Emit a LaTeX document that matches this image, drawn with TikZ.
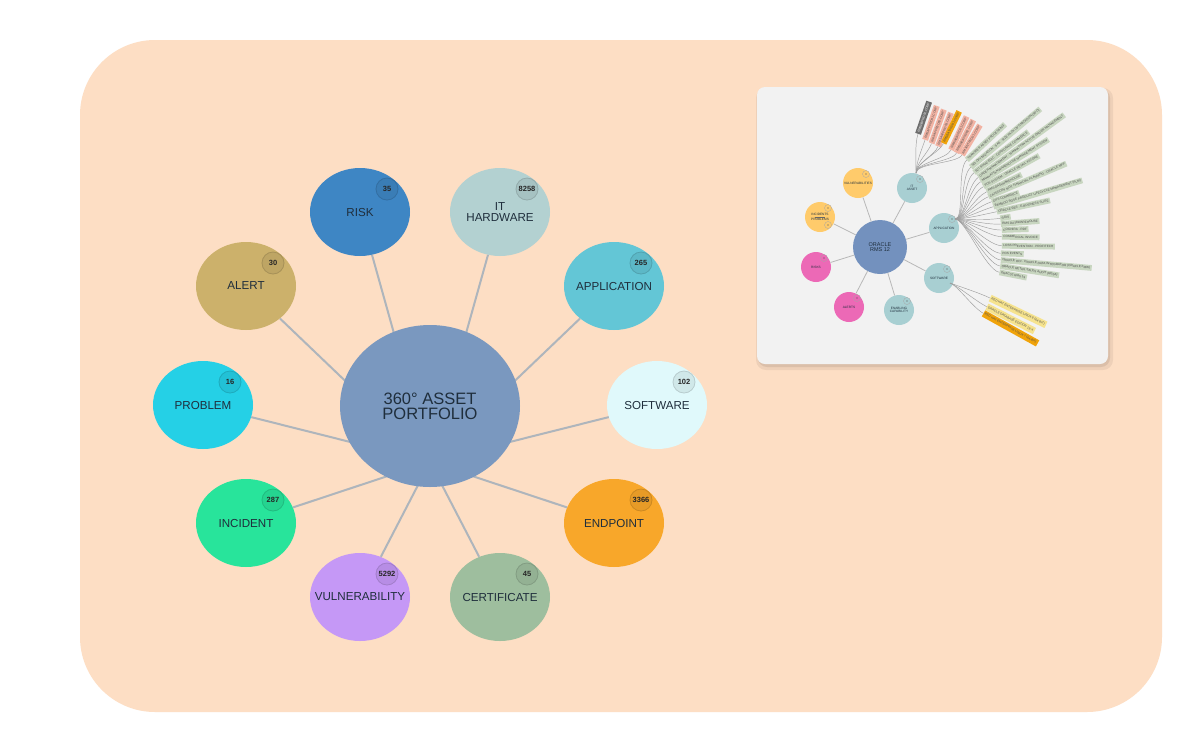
\documentclass[tikz,border=0pt]{standalone}
\usepackage{fontspec}
\setmainfont{Liberation Sans}
\usetikzlibrary{shapes.geometric,calc}
\definecolor{peach}{HTML}{FDDEC4}
\definecolor{ink}{HTML}{1F2E3C}
\definecolor{spokegrey}{HTML}{AEB5BC}
\definecolor{hubblue}{HTML}{7A98BF}
\definecolor{riskblue}{HTML}{3E86C4}
\definecolor{hwgrey}{HTML}{B3D1D1}
\definecolor{appcyan}{HTML}{63C6D6}
\definecolor{swice}{HTML}{E0F9FB}
\definecolor{endorange}{HTML}{F8A72A}
\definecolor{certsage}{HTML}{9EBE9E}
\definecolor{vulnlilac}{HTML}{C598F6}
\definecolor{incgreen}{HTML}{28E49B}
\definecolor{probcyan}{HTML}{25D0E6}
\definecolor{alertgold}{HTML}{CCB16B}
\definecolor{insetbg}{HTML}{F2F2F2}
\definecolor{rmsblue}{HTML}{7391BE}
\definecolor{iyellow}{HTML}{FFCB6B}
\definecolor{ipink}{HTML}{EC69B6}
\definecolor{iteal}{HTML}{A8CFD2}
\definecolor{sage}{HTML}{C8D6C0}
\definecolor{isalmon}{HTML}{F2B3A3}
\definecolor{iorange}{HTML}{F0A30A}
\definecolor{igrey}{HTML}{6E6E6E}
\definecolor{ipale}{HTML}{F6E38E}
\tikzset{bubble/.style={ellipse,minimum width=100pt,minimum height=88pt,inner xsep=-25pt,inner ysep=0pt,align=center,text=ink,font=\fontsize{11.6}{11}\selectfont},
badge/.style={circle,minimum size=22pt,inner sep=0pt,line width=.8pt,text=black!85,font=\fontsize{7.5}{8}\selectfont\bfseries},
spoke/.style={line width=2pt,draw=spokegrey},
ibub/.style={circle,minimum size=30pt,inner sep=-4pt,align=center,text=ink,font=\fontsize{3.2}{3.4}\selectfont},
idot/.style={circle,minimum size=7pt,inner sep=0pt,draw=black!35,line width=.3pt},
ispoke/.style={line width=.8pt,draw=black!28},
fan/.style={line width=.45pt,draw=black!38},
leaf/.style={anchor=west,inner sep=.6pt,inner xsep=1.5pt,minimum height=5.8pt,text=black!70,font=\fontsize{3.1}{3.3}\selectfont}}
\begin{document}
\begin{tikzpicture}[x=1pt,y=-1pt]
\useasboundingbox (0,0) rectangle (1200,732);
\fill[white] (0,0) rectangle (1200,732);
\fill[peach,rounded corners=75pt] (80,40) rectangle (1162,712);
\coordinate (hubfoot) at (430,462);
\foreach \n/\x/\y/\c/\t/\k in {risk/360/212/riskblue/RISK/35,ithw/500/212/hwgrey/{IT\\HARDWARE}/8258,app/614/286/appcyan/APPLICATION/265,sw/657/405/swice/SOFTWARE/102,endp/614/523/endorange/ENDPOINT/3366,cert/500/597/certsage/CERTIFICATE/45,vuln/360/597/vulnlilac/VULNERABILITY/5292,inc/246/523/incgreen/INCIDENT/287,prob/203/405/probcyan/PROBLEM/16,alert/246/286/alertgold/ALERT/30}{
\node[bubble,fill=\c] (\n) at (\x,\y) {\t};
\draw[spoke] (hubfoot) -- (\n);
\node[badge,fill=\c!93!black,draw=\c!82!black] (\n-k) at ($(\n)+(27,-23)$) {\k};}
\node[bubble,minimum width=180pt,minimum height=162pt,fill=hubblue,font=\fontsize{16.5}{15}\selectfont] (hub) at (430,406) {360° ASSET\\PORTFOLIO};
\fill[black,opacity=.06,rounded corners=10pt] (756,88) rectangle (1113,370);
\fill[black,opacity=.08,rounded corners=9pt] (758,89) rectangle (1110,367);
\fill[insetbg,rounded corners=8pt] (757,87) rectangle (1108,364);
\node[ibub,minimum size=54pt,fill=rmsblue,font=\fontsize{5.5}{5.5}\selectfont] (rms) at (880,247) {ORACLE\\RMS 12};
\foreach \n/\x/\y/\c/\t in {vul/858/183/iyellow/VULNERABILITIES,incprob/820/217/iyellow/{INCIDENTS\\[1.5pt]PROBLEMS},risks/816/267/ipink/RISKS,alerts/849/307/ipink/ALERTS,enab/899/310/iteal/{ENABLING\\CAPABILITY},itasset/912/188/iteal/{IT\\ASSET},appl/944/228/iteal/APPLICATION,soft/939/278/iteal/SOFTWARE}{
\node[ibub,fill=\c] (\n) at (\x,\y) {\t};
\draw[ispoke] (rms) -- (\n);
\node[idot,fill=\c] (\n-d) at ($(\n)+(8,-9)$) {};
\fill[black!70] (\n-d) circle (.7pt);}
\node[idot,fill=iyellow] (incprob-d2) at ($(incprob)+(8,8)$) {};
\fill[black!70] (incprob-d2) circle (.7pt);
\draw[black!60,line width=.3pt] ($(incprob)+(-5,0)$) -- ($(incprob)+(5,0)$);
\coordinate (appfan) at (955,219);
\coordinate (itfan) at (916,173);
\coordinate (swfan) at (950,283);
\begin{scope}
\clip[rounded corners=8pt] (757,94) rectangle (1108,364);
\foreach \x/\y/\r/\t [count=\i] in {966.7/160/43/TRANSFER ASSET PROCESSING,970.7/167.3/40/SDI OPTIMIZATION · SAS · SIZE PACK OPTIMIZATION (SPO),974/172.7/37/SCI STRATEGIC · CORPORATE COMMERCE,978.3/177.3/36/ORDER MANAGEMENT · MANHATTAN ACTIVE ORDER MANAGEMENT,980.7/181.7/32/MANHATTAN WAREHOUSE MANAGEMENT SYSTEM,983.3/186.7/29/POS SYSTEM · ORACLE RETAIL XSTORE,986.7/191.7/26/RMS DATAWAREHOUSE,988.3/196.7/23/CATEGORY MGT FINANCIAL PLANNING · ORACLE MFP,991.7/201.7/18/DPS COMMERCE,993.3/206.7/16.5/BAMBOO ROSE PRODUCT LIFECYCLE MANAGEMENT (PLM),996.7/211.7/12/ORACLE EBS · E-BUSINESS SUITE,1000/218.3/9/RGIS,1000.7/224/4.5/RMS DATAWAREHOUSE,1001.7/230/2/COGNIRA · RDF,1001.7/236.7/-1/COMMERCIAL INVOICE,1001.7/245.7/-1/LOSS PREVENTION · PROFITECH,1000.7/253.3/-2/POS EVENTS,1000.7/260/-5/ORACLE ODI · ORACLE DATA INTEGRATOR (ORACLE FMW),1000/266/-9/ORACLE RETAIL SALES AUDIT (RESA),999.3/272.3/-11/ORACLE RMS 19}{
\node[leaf,fill=sage,rotate=\r] (a\i) at (\x,\y) {\t};
\draw[fan] (appfan) .. controls +(10,0) and +({-14*cos(\r)},{14*sin(\r)}) .. (a\i.west);}
\foreach \x/\y/\r/\c/\tc/\t [count=\i] in {918/134/71/igrey/white!85/RMSDBPRD01.CORP,925/140/71/isalmon/black!70/RMSAPPPRD01.CORP,931.5/143.5/70/isalmon/black!70/RMSAPPPRD02.CORP,938/146.5/69/isalmon/black!70/RMSAPPPRD03.CORP,943.5/143.5/64/iorange/black!70/RMSBATPRD01.CORP,951/150/65/isalmon/black!70/RMSWEBPRD01.CORP,956.5/153/63/isalmon/black!70/RMSWEBPRD02.CORP,962/155/59/isalmon/black!70/RMSINTPRD01.CORP}{
\node[leaf,fill=\c,text=\tc,minimum height=6pt,rotate=\r] (h\i) at (\x,\y) {\t};
\draw[fan] (itfan) .. controls +(0,-10) and +({-10*cos(\r)},{10*sin(\r)}) .. (h\i.west);}
\foreach \x/\y/\r/\c/\t [count=\i] in {990/298/-25.6/ipale/RED HAT ENTERPRISE LINUX 8 (64-BIT),986.7/306.7/-27/ipale/ORACLE DATABASE EDITION 19.X,983.3/313.3/-29/iorange/RED HAT ENTERPRISE LINUX 7 (64-BIT)}{
\node[leaf,fill=\c,minimum height=7pt,rotate=\r] (s\i) at (\x,\y) {\t};
\draw[fan] (swfan) .. controls +(8,3) and +({-12*cos(\r)},{12*sin(\r)}) .. (s\i.west);}
\end{scope}
\end{tikzpicture}
\end{document}
